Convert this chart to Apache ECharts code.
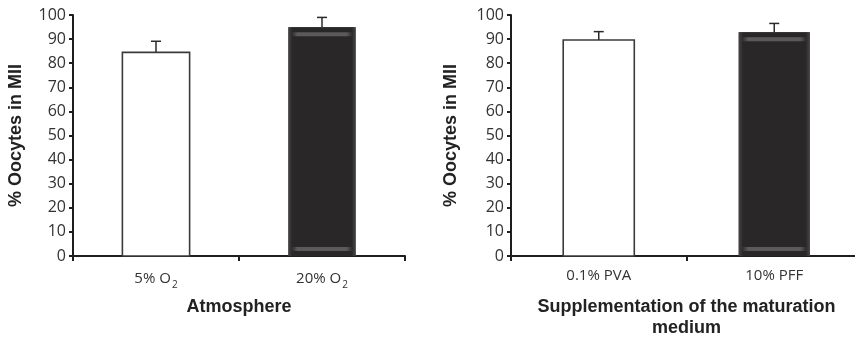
<!DOCTYPE html>
<html>
<head>
<meta charset="utf-8">
<script src="https://cdn.jsdelivr.net/npm/echarts@6/dist/echarts.min.js"></script>
<style>html,body{margin:0;padding:0;background:#fff;}#c{width:855px;height:338px;}</style>
</head>
<body>
<div id="c"></div>
<script>
// ---- data ----
var categoriesA = ['5% O2', '20% O2'];
var valuesA = [84.5, 94.9];
var errorsA = [4.6, 4.1];
var categoriesB = ['0.1% PVA', '10% PFF'];
var valuesB = [89.6, 92.8];
var errorsB = [3.5, 3.7];
var yTitle = '% Oocytes in MII';
var xTitleA = 'Atmosphere';
var xTitleB = 'Supplementation of the maturation\nmedium';
var yMin = 0, yMax = 100, yStep = 10;

var chart = echarts.init(document.getElementById('c'), null, {renderer: 'canvas'});

function rows(vals, errs) {
  return vals.map(function (v, i) { return [i, v, errs[i]]; });
}

function renderBar(params, api) {
  var idx = api.value(0), val = api.value(1), err = api.value(2);
  var top = api.coord([idx, val]);
  var base = api.coord([idx, 0]);
  var errTop = api.coord([idx, val + err]);
  var w = api.size([1, 0])[0] * 0.405;
  var x = top[0] - w / 2, y = top[1], h = base[1] - top[1];
  var children = [];
  if (idx === 0) {
    children.push({type: 'rect', shape: {x: x, y: y, width: w, height: h},
      style: {fill: '#ffffff', stroke: '#3a3a3a', lineWidth: 1.6}});
  } else {
    children.push({type: 'rect', shape: {x: x, y: y, width: w, height: h},
      style: {fill: '#2a2728'}});
    var edgeGrad = new echarts.graphic.LinearGradient(0, 0, 1, 0, [
      {offset: 0, color: 'rgba(70,68,68,1)'},
      {offset: 0.06, color: 'rgba(42,39,40,1)'},
      {offset: 0.94, color: 'rgba(42,39,40,1)'},
      {offset: 1, color: 'rgba(70,68,68,1)'}
    ]);
    children.push({type: 'rect', shape: {x: x, y: y, width: w, height: h}, style: {fill: edgeGrad}});
    var bandGrad = new echarts.graphic.LinearGradient(0, 0, 1, 0, [
      {offset: 0, color: 'rgba(100,98,98,0)'},
      {offset: 0.1, color: 'rgba(100,98,98,0.85)'},
      {offset: 0.9, color: 'rgba(100,98,98,0.85)'},
      {offset: 1, color: 'rgba(100,98,98,0)'}
    ]);
    children.push({type: 'rect', shape: {x: x + 3, y: y + 5, width: w - 6, height: 4}, style: {fill: bandGrad}});
    children.push({type: 'rect', shape: {x: x + 3, y: base[1] - 9, width: w - 6, height: 4}, style: {fill: bandGrad}});
  }
  children.push({type: 'line', shape: {x1: top[0], y1: y, x2: top[0], y2: errTop[1]},
    style: {stroke: '#2a2a2a', lineWidth: 1.5}});
  children.push({type: 'line', shape: {x1: top[0] - 5, y1: errTop[1], x2: top[0] + 5, y2: errTop[1]},
    style: {stroke: '#2a2a2a', lineWidth: 1.5}});
  return {type: 'group', children: children};
}

function yAxisCfg(gi, gap) {
  return {
    type: 'value', gridIndex: gi, min: yMin, max: yMax, interval: yStep,
    name: yTitle, nameLocation: 'middle', nameGap: gap, nameRotate: 90,
    nameTextStyle: {fontFamily: 'Liberation Sans', fontWeight: 'bold', fontSize: 18, color: '#222'},
    axisLine: {show: true, lineStyle: {color: '#1e1e1e', width: 2}},
    axisTick: {show: true, length: 4, lineStyle: {color: '#1e1e1e', width: 2}},
    axisLabel: {margin: 7, fontFamily: 'Open Sans', fontSize: 16, color: '#333333'},
    splitLine: {show: false}
  };
}
function xAxisCfg(gi, cats, title) {
  return {
    type: 'category', gridIndex: gi, data: cats,
    name: title, nameLocation: 'middle', nameGap: 41,
    nameTextStyle: {fontFamily: 'Liberation Sans', fontWeight: 'bold', fontSize: 18, color: '#222', lineHeight: 21},
    axisLine: {show: true, lineStyle: {color: '#1e1e1e', width: 2}},
    axisTick: {show: true, length: 5, alignWithLabel: false, lineStyle: {color: '#1e1e1e', width: 2}},
    axisLabel: {
      margin: 12, fontFamily: 'Open Sans', fontSize: 15, color: '#333333',
      formatter: function (v) { return v.replace(/O2$/, 'O{sub|2}'); },
      rich: {sub: {fontFamily: 'Open Sans', fontSize: 10, color: '#333333', padding: [12, 0, 0, 1]}}
    }
  };
}

chart.setOption({
  animation: false,
  backgroundColor: '#ffffff',
  grid: [
    {left: 73, top: 15, width: 332, height: 241, outerBoundsMode: 'none', containLabel: false},
    {left: 511, top: 15, width: 351, height: 241, outerBoundsMode: 'none', containLabel: false}
  ],
  xAxis: [xAxisCfg(0, categoriesA, xTitleA), xAxisCfg(1, categoriesB, xTitleB)],
  yAxis: [yAxisCfg(0, 48), yAxisCfg(1, 51)],
  series: [
    {type: 'custom', xAxisIndex: 0, yAxisIndex: 0, renderItem: renderBar,
     encode: {x: 0, y: 1}, data: rows(valuesA, errorsA), z: 3},
    {type: 'custom', xAxisIndex: 1, yAxisIndex: 1, renderItem: renderBar,
     encode: {x: 0, y: 1}, data: rows(valuesB, errorsB), z: 3}
  ]
});
</script>
</body>
</html>
